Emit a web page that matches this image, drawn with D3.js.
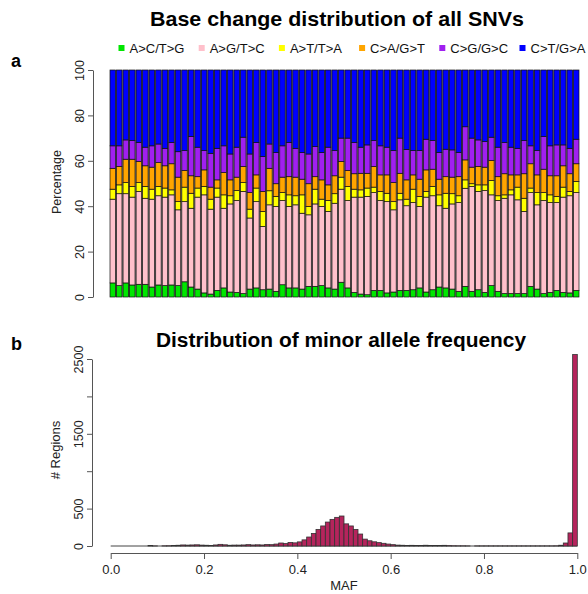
<!DOCTYPE html>
<html>
<head>
<meta charset="utf-8">
<script src="https://cdn.jsdelivr.net/npm/d3@7"></script>
<style>
  html, body { margin: 0; padding: 0; background: #fff; }
  svg { display: block; font-family: "Liberation Sans", Arial, sans-serif; }
</style>
</head>
<body>
<svg id="chart" width="588" height="594"></svg>
<script>
// ---------- DATA ----------
const samples = d3.range(1, 73);
const changeTypes = ["A>C/T>G", "A>G/T>C", "A>T/T>A", "C>A/G>T", "C>G/G>C", "C>T/G>A"];
const changeColors = ["#00E600", "#FFC0CB", "#FFFF00", "#FFA500", "#A020F0", "#0000FF"];

const acTg = [6.2,5.0,6.2,5.3,5.6,5.6,4.4,5.3,5.0,5.3, 5.0,6.7,4.4,3.5,1.8,1.3,2.9,4.0,2.2,2.0,
  1.5,3.5,4.0,3.2,3.5,2.5,5.4,4.0,4.0,3.5, 4.7,4.7,5.0,4.0,3.5,6.5,4.0,2.0,1.3,1.0,
  2.9,2.9,1.8,2.2,2.9,2.9,3.2,4.0,2.2,3.2, 4.4,4.0,3.5,2.5,4.7,2.5,3.2,2.0,5.0,2.5,
  1.5,1.5,1.5,1.5,4.7,3.5,1.5,2.0,2.9,2.0, 1.8,2.9];
const agTc = [36.9,40.5,39.3,38.7,40.9,37.9,38.7,39.3,39.0,39.7, 33.4,35.3,34.7,40.5,43.2,37.4,41.1,35.1,38.8,40.5,
  45.0,31.3,38.0,27.9,37.1,37.4,37.1,35.9,36.6,33.4, 31.5,36.3,34.9,33.7,37.8,41.0,38.5,42.0,42.7,43.3,
  43.1,39.6,40.2,36.2,39.9,37.3,38.4,35.9,41.8,41.4, 35.8,35.1,37.5,39.1,43.2,46.2,43.3,44.9,40.0,40.0,
  42.0,43.5,41.3,36.2,41.3,37.1,41.0,39.6,38.7,42.0, 42.8,43.1];
const atTa = [4.4,3.9,4.9,4.7,3.9,5.2,4.4,4.1,4.0,2.2, 3.6,6.4,6.6,4.0,3.7,4.4,4.0,5.9,3.6,4.4,
  3.9,3.9,6.0,6.6,6.2,4.4,3.5,5.1,4.0,8.1, 3.7,6.5,3.2,4.8,4.2,5.3,6.2,3.5,3.2,3.7,
  2.4,4.0,3.7,3.6,2.9,2.9,5.9,4.4,2.5,4.1, 4.8,6.6,4.5,3.0,3.7,1.2,2.9,2.5,6.3,2.1,
  1.5,2.2,5.6,5.8,2.0,5.4,3.5,3.4,2.7,4.4, 1.9,4.9];
const caGt = [9.2,8.1,10.3,12.0,9.3,9.1,9.7,10.5,9.8,11.5, 10.8,7.3,7.7,5.0,7.3,5.3,3.6,9.8,7.0,5.9,
  7.1,7.3,5.8,8.8,9.9,5.6,6.8,8.0,8.2,6.9, 10.0,5.5,8.5,6.9,7.9,6.9,7.0,6.8,7.3,6.5,
  9.1,7.3,8.1,8.4,8.8,8.5,6.3,7.6,9.5,7.6, 6.9,7.3,7.3,8.4,8.8,7.3,8.1,7.8,8.8,8.4,
  9.3,6.6,5.4,10.8,10.7,7.8,10.3,8.4,9.1,9.4, 7.8,7.8];
const cgGc = [9.9,9.1,8.5,8.2,8.3,8.2,9.4,8.2,7.7,9.3, 11.2,8.8,17.3,13.0,8.5,14.9,13.9,11.8,11.4,13.2,
  12.9,17.0,14.2,15.4,10.7,13.7,13.8,15.0,12.7,11.7, 13.1,13.3,12.0,16.6,11.1,10.3,14.3,13.7,11.5,12.5,
  11.4,12.8,12.2,14.1,15.5,13.4,10.7,12.6,13.5,12.6, 11.7,12.1,12.0,10.6,14.6,12.8,11.7,11.3,10.3,13.0,
  13.7,12.2,11.7,14.6,7.9,10.7,14.4,13.2,13.6,9.2, 11.2,10.8];
const ctGa = [33.4,33.4,30.8,31.1,32.0,34.0,33.4,32.6,34.5,32.0, 36.0,35.5,29.3,34.0,35.5,36.7,34.5,33.4,37.0,34.0,
  29.6,37.0,32.0,38.1,32.6,36.4,33.4,32.0,34.5,36.4, 37.0,33.7,36.4,34.0,35.5,30.0,30.0,32.0,34.0,33.0,
  31.1,33.4,34.0,35.5,30.0,35.0,35.5,35.5,30.5,31.1, 36.4,34.9,35.2,36.4,25.0,30.0,30.8,31.5,29.6,34.0,
  32.0,34.0,34.5,31.1,33.4,35.5,29.3,33.4,33.0,33.0, 34.5,30.5];
const pctTicks = [0, 20, 40, 60, 80, 100];

// MAF histogram: counts per 0.01-wide bin from 0.00 to 1.00
const mafCounts = [0,0,0,0,0,0,0,0,8,1, 0,2,3,6,10,14,12,14,16,12,
  10,8,14,22,16,10,12,12,14,18, 14,16,14,20,18,26,40,32,48,42,
  55,82,120,168,222,268,320,356,383,401, 296,268,222,160,92,70,56,45,36,26,
  18,12,10,8,9,6,8,10,6,8, 6,9,5,3,2,2,1,0,1,1,
  1,1,1,1,1,1,1,1,1,1, 1,1,1,1,1,2,10,40,175,2560];
const mafTicks = [0, 0.2, 0.4, 0.6, 0.8, 1.0];
const countTicks = [0, 500, 1000, 1500, 2000, 2500];
const countTickLabels = ["0", "500", "", "1500", "", "2500"];

// ---------- DRAW ----------
const svg = d3.select("#chart");
svg.append("rect").attr("width", 588).attr("height", 594).attr("fill", "#fff");

const seriesArrays = [acTg, agTc, atTa, caGt, cgGc, ctGa];
const rows = samples.map((s, i) => {
  const row = { sample: s };
  const total = d3.sum(seriesArrays, a => a[i]);
  changeTypes.forEach((k, j) => row[k] = seriesArrays[j][i] * 100 / total);
  return row;
});

// Panel a
const xA = d3.scaleBand().domain(samples).range([110, 579]).paddingInner(1 / 6).paddingOuter(0);
const yA = d3.scaleLinear().domain([0, 100]).range([297, 70]);
const color = d3.scaleOrdinal().domain(changeTypes).range(changeColors);

svg.append("text").attr("x", 337).attr("y", 26).attr("text-anchor", "middle")
  .attr("font-size", 21).attr("font-weight", "bold").attr("textLength", 374)
  .attr("lengthAdjust", "spacingAndGlyphs")
  .text("Base change distribution of all SNVs");
svg.append("text").attr("x", 11).attr("y", 67).attr("font-size", 18).attr("font-weight", "bold").text("a");

// gaps between bars (appear grey)
svg.append("rect").attr("x", xA.range()[0]).attr("y", yA(100))
  .attr("width", xA.range()[1] - xA.range()[0]).attr("height", yA(0) - yA(100))
  .attr("fill", "#8f8f8f");

const stacked = d3.stack().keys(changeTypes)(rows);
svg.append("g").selectAll("g").data(stacked).join("g")
  .attr("fill", d => color(d.key))
  .selectAll("rect").data(d => d).join("rect")
  .attr("x", d => xA(d.data.sample))
  .attr("width", xA.bandwidth())
  .attr("y", d => yA(d[1]))
  .attr("height", d => yA(d[0]) - yA(d[1]))
  .attr("stroke", "#111").attr("stroke-width", 0.7);

const axA = svg.append("g").attr("transform", "translate(93,0)")
  .call(d3.axisLeft(yA).tickValues(pctTicks).tickSize(5).tickSizeOuter(0));
axA.select(".domain").attr("stroke", "#555");
axA.selectAll(".tick line").attr("stroke", "#555");
axA.selectAll(".tick text").attr("font-size", 12.5).attr("fill", "#222")
  .attr("transform", "rotate(-90)").attr("x", 0).attr("y", -9).attr("dy", 0)
  .attr("text-anchor", "middle");
axA.attr("font-family", null);

svg.append("text").attr("transform", "translate(61,182) rotate(-90)")
  .attr("text-anchor", "middle").attr("font-size", 12.5).attr("fill", "#222").text("Percentage");

// legend
const legend = svg.append("g").selectAll("g").data(changeTypes).join("g")
  .attr("transform", (d, i) => `translate(${118.5 + i * 80.2},48)`);
legend.append("rect").attr("x", 0).attr("y", -3).attr("width", 6).attr("height", 6).attr("fill", d => color(d));
legend.append("text").attr("x", 11).attr("y", 4.5).attr("font-size", 13).attr("fill", "#111").text(d => d);

// Panel b
const xB = d3.scaleLinear().domain([0, 1]).range([110.7, 577.3]);
const yB = d3.scaleLinear().domain([0, 2500]).range([546, 359]);
const binW = 0.01;

svg.append("text").attr("x", 341).attr("y", 347).attr("text-anchor", "middle")
  .attr("font-size", 20).attr("font-weight", "bold").attr("textLength", 370)
  .attr("lengthAdjust", "spacingAndGlyphs")
  .text("Distribution of minor allele frequency");
svg.append("text").attr("x", 11).attr("y", 350).attr("font-size", 18).attr("font-weight", "bold").text("b");

// baseline of the histogram (zero-count bins drawn as a line, as in R)
svg.append("line").attr("x1", xB(0)).attr("x2", xB(1)).attr("y1", yB(0)).attr("y2", yB(0))
  .attr("stroke", "#444").attr("stroke-width", 1);

svg.append("g").selectAll("rect").data(mafCounts).join("rect")
  .attr("x", (d, i) => xB(i * binW))
  .attr("width", (d, i) => xB((i + 1) * binW) - xB(i * binW))
  .attr("y", d => yB(d))
  .attr("height", d => yB(0) - yB(d))
  .attr("fill", "#B5245C").attr("stroke", "#333").attr("stroke-width", 0.8);

const axBx = svg.append("g").attr("transform", "translate(0,553)")
  .call(d3.axisBottom(xB).tickValues(mafTicks).tickFormat(d3.format(".1f")).tickSize(6).tickSizeOuter(0).tickPadding(6));
axBx.select(".domain").attr("stroke", "#555");
axBx.selectAll(".tick line").attr("stroke", "#555");
axBx.selectAll(".tick text").attr("font-size", 13).attr("fill", "#222");
axBx.attr("font-family", null);

const axBy = svg.append("g").attr("transform", "translate(92,0)")
  .call(d3.axisLeft(yB).tickValues(countTicks).tickFormat((d, i) => countTickLabels[i]).tickSize(5).tickSizeOuter(0));
axBy.select(".domain").attr("stroke", "#555");
axBy.selectAll(".tick line").attr("stroke", "#555");
axBy.selectAll(".tick text").attr("font-size", 12.5).attr("fill", "#222")
  .attr("transform", "rotate(-90)").attr("x", 0).attr("y", -9).attr("dy", 0)
  .attr("text-anchor", "middle");
axBy.attr("font-family", null);

svg.append("text").attr("transform", "translate(60,450) rotate(-90)")
  .attr("text-anchor", "middle").attr("font-size", 13).attr("fill", "#222").text("# Regions");
svg.append("text").attr("x", 344).attr("y", 590).attr("text-anchor", "middle")
  .attr("font-size", 13).attr("fill", "#222").text("MAF");
</script>
</body>
</html>
